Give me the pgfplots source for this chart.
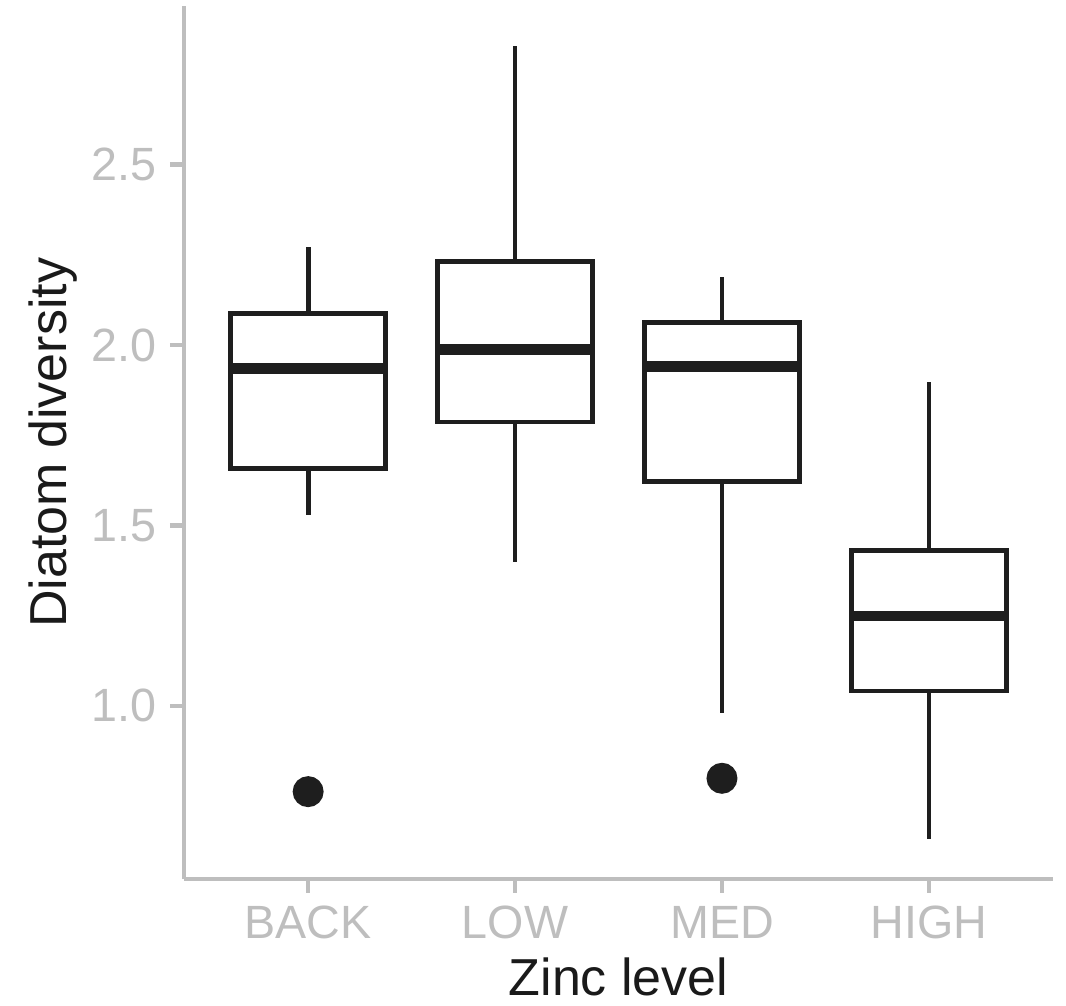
\documentclass[border=0pt]{standalone}
\usepackage{pgfplots}
\pgfplotsset{compat=1.18}
\usepgfplotslibrary{statistics}
\usepackage{fontspec}
\setmainfont{Liberation Sans}
\definecolor{axgray}{RGB}{190,190,190}
\definecolor{boxc}{RGB}{30,30,30}
\definecolor{titc}{RGB}{26,26,26}
\begin{document}
\begin{tikzpicture}
\useasboundingbox (-69pt,-47.6pt) rectangle (330.75pt,329.6pt);
\begin{axis}[
  at={(0,0)}, anchor=south west,
  scale only axis, width=325.9pt, height=327.2pt,
  xmin=0.4, xmax=4.6, ymin=0.52, ymax=2.939,
  axis x line=bottom, axis y line=left,
  axis line style={-, draw=axgray, line width=1.7pt},
  xtick={1,2,3,4}, xticklabels={BACK,LOW,MED,HIGH},
  ytick={1,1.5,2,2.5}, yticklabels={1.0,1.5,2.0,2.5},
  tick align=outside, major tick length=5.25pt,
  every tick/.style={draw=axgray, line width=1.7pt},
  ticklabel style={text=axgray, font=\fontsize{17.5}{20}\selectfont, inner sep=0pt},
  xticklabel style={anchor=north, yshift=-4.85pt},
  yticklabel style={anchor=east, xshift=-4.85pt},
  xlabel={Zinc level},
  xlabel style={at={(axis description cs:0.5,-0.1335)}, anchor=base, inner sep=0pt, text=titc, font=\fontsize{19.5}{22}\selectfont},
  ylabel={Diatom diversity},
  ylabel style={at={(axis description cs:-0.1507,0.5)}, anchor=center, inner sep=0pt, text=titc, font=\fontsize{19.5}{22}\selectfont},
  boxplot/draw direction=y,
  boxplot/box extend=0.75,
  boxplot/whisker extend=0,
  boxplot/every box/.style={fill=white},
  boxplot/every median/.style={line width=4.1pt},
  clip=false,
]
% BACK
\addplot[draw=boxc, line width=1.8pt, mark=*, mark size=4.9pt, mark options={fill=boxc, draw=none},
  boxplot prepared={draw position=1, lower whisker=1.529, lower quartile=1.658, median=1.935, upper quartile=2.088, upper whisker=2.271}]
  coordinates {(0,0.762)};
% LOW
\addplot[draw=boxc, line width=1.8pt, mark=*, mark size=4.9pt, mark options={fill=boxc, draw=none},
  boxplot prepared={draw position=2, lower whisker=1.399, lower quartile=1.787, median=1.989, upper quartile=2.231, upper whisker=2.829}]
  coordinates {};
% MED
\addplot[draw=boxc, line width=1.8pt, mark=*, mark size=4.9pt, mark options={fill=boxc, draw=none},
  boxplot prepared={draw position=3, lower whisker=0.981, lower quartile=1.621, median=1.940, upper quartile=2.062, upper whisker=2.189}]
  coordinates {(0,0.799)};
% HIGH
\addplot[draw=boxc, line width=1.8pt, mark=*, mark size=4.9pt, mark options={fill=boxc, draw=none},
  boxplot prepared={draw position=4, lower whisker=0.630, lower quartile=1.041, median=1.249, upper quartile=1.430, upper whisker=1.898}]
  coordinates {};
\end{axis}
\end{tikzpicture}
\end{document}
